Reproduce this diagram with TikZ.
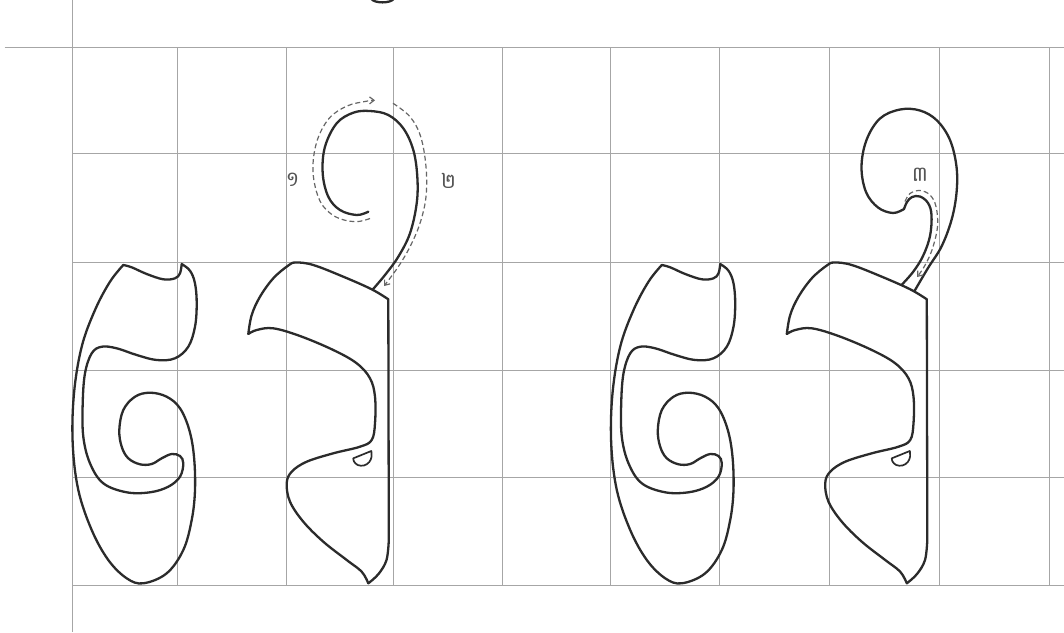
\documentclass[tikz,border=0pt]{standalone}
\usepackage{fontspec}
\newfontfamily\khmerfont[Script=Khmer]{Battambang}
\usetikzlibrary{arrows.meta}
\definecolor{gridc}{HTML}{A6A6A6}
\definecolor{inkc}{HTML}{2B2B2B}
\definecolor{dashc}{HTML}{666666}
\newcommand\glyphLeft{%
  \draw[glyph] plot[smooth,tension=0.6] coordinates {(123.3,265) (131.7,267.3) (146.7,274) (163.3,279.3) (175,278.3) (180,273.3) (181.7,264)}
   -- plot[smooth,tension=0.6] coordinates {(181.7,264) (190,270.7) (195,283.3) (196.7,303.3) (195,326.7) (188.3,346.7) (175,358.3) (156.7,360) (136.7,355) (116.7,348.3) (101.7,346.7) (91.7,353.3) (85,373.3) (82.7,403.3) (83.3,436.7) (90,463.3) (103.3,483.3) (126.7,492.3) (150,492.3) (168.3,486.7) (180,476.7) (183.3,463.3) (180,456) (171.7,454) (161.7,458.3) (151.7,464) (140,464.3) (128.3,458.3) (121.7,446.7) (119.3,430) (123.3,410) (135,396.7) (150,392.7) (166.7,396.7) (180,408.3) (189.3,430) (194,456.7) (195,490) (191.7,520) (183.3,550) (166.7,573.3) (143.3,583.3) (126.7,578.3) (108.3,560) (91.7,530) (78.3,490) (72.7,443.3) (74,393.3) (81.7,346.7) (95,310) (110,281.7) (123.3,265)} -- cycle;}
\newcommand\glyphFlag{%
  \draw[glyph] plot[smooth,tension=0.6] coordinates {(248.3,334) (251.7,315) (260,296.7) (273.3,278.3) (288.3,265.5) (296,262.5) (313.3,265) (343.3,276.7) (371.7,289.3) (388.3,299.3)}
   -- (388.8,540)
   -- plot[smooth,tension=0.6] coordinates {(388.8,540) (386.5,560) (378.5,574) (368.3,583.3)}
   -- plot[smooth,tension=0.6] coordinates {(368.3,583.3) (361.7,571.7) (346.7,560) (323.3,541.7) (303.3,521.7) (290,501.7) (286.7,483.3) (291.7,471.7) (306.7,461.7) (333.3,453.3) (360,446.7) (371.7,440) (375,423.3) (375,396.7) (370,378.3) (356.7,363.3) (333.3,350) (300,336) (273.3,328.3) (256.7,330) (248.3,334)} -- cycle;
  \draw[glyph,line width=1.7pt] (353.3,458.3) -- (371.3,451)
   -- plot[smooth,tension=0.6] coordinates {(371.3,451) (371.6,456.5) (369.3,462) (364,465.5) (357.7,465) (354,461.5) (353.3,458.3)} -- cycle;}
\begin{document}
\begin{tikzpicture}[x=1pt,y=-1pt,
  grid/.style={draw=gridc,line width=0.9pt},
  glyph/.style={draw=inkc,line width=2.3pt,line join=round,line cap=round},
  dashline/.style={draw=dashc,line width=1.2pt,dash pattern=on 5pt off 3pt,-{Straight Barb[length=4.5pt,width=7pt]}},
  lbl/.style={text=inkc!80,font=\khmerfont\fontsize{21}{21}\selectfont,inner sep=0pt}]
\useasboundingbox (0,0) rectangle (1064,632);
\fill[white] (0,0) rectangle (1064,632);
% grid
\draw[grid] (72.5,0) -- (72.5,632);
\draw[grid] (4.5,47) -- (1064,47);
\foreach \y in {153.5,262.5,370,477.7,585} \draw[grid] (72.5,\y) -- (1064,\y);
\foreach \x in {177,286,393.5,502,610,719.5,829,939,1049} \draw[grid] (\x,47) -- (\x,585);
% partial shape cut at top
\draw[glyph] (371.5,-1) .. controls (374.5,3.5) and (390.5,3.5) .. (393.5,-1);
% first pair
\glyphLeft
\glyphFlag
\draw[glyph] plot[smooth,tension=0.6] coordinates {(368.3,211.7) (356.7,215) (340,210) (328.3,196.7) (322.7,173.3) (325,146.7) (336.7,123.3) (353.3,112.7) (370,111) (388.3,115) (403.3,128.3) (413.3,150) (417.3,176.7) (416.7,203.3) (410,233.3) (398.3,256.7) (385,275) (372.7,289.5)};
\draw[dashline] plot[smooth,tension=0.6] coordinates {(370,218.5) (355,221.7) (335,216.5) (320,201) (313,172) (316.7,142) (329,118.5) (347,106) (366,101.3) (375,100.3)};
\draw[dashline] plot[smooth,tension=0.6] coordinates {(393,103.3) (410,116.7) (420.7,136.7) (426,166.7) (426,196.7) (420,223.3) (410,246.7) (398.3,266.7) (384,286)};
\node[lbl] (n1) at (292.5,180) {១};
\node[lbl] (n2) at (448.5,181) {២};
% second pair
\begin{scope}[shift={(538.5,0)}]
\glyphLeft
\glyphFlag
\end{scope}
\draw[glyph] plot[smooth,tension=0.6] coordinates {(901.5,285) (913,272) (923,256) (930,236) (931.5,215) (928,203) (920,196.5) (912,197) (907,202) (904,209)}
  -- plot[smooth,tension=0.6] coordinates {(904,209) (893,213) (878,207.5) (866,192) (861.5,167) (866.5,140) (880,118.5) (900,109.5) (920,110.5) (937,120.5) (950,140) (956.5,166.7) (956.5,193) (951.5,220) (941.5,246.5) (928,268) (914.5,291)};
\draw[dashline] plot[smooth,tension=0.6] coordinates {(905,201.5) (910,193.5) (920,190.5) (930,195) (936,206.5) (937.5,226.5) (932,250) (924,267) (917,277)};
\node[lbl] (n3) at (920,175) {៣};
\end{tikzpicture}
\end{document}
